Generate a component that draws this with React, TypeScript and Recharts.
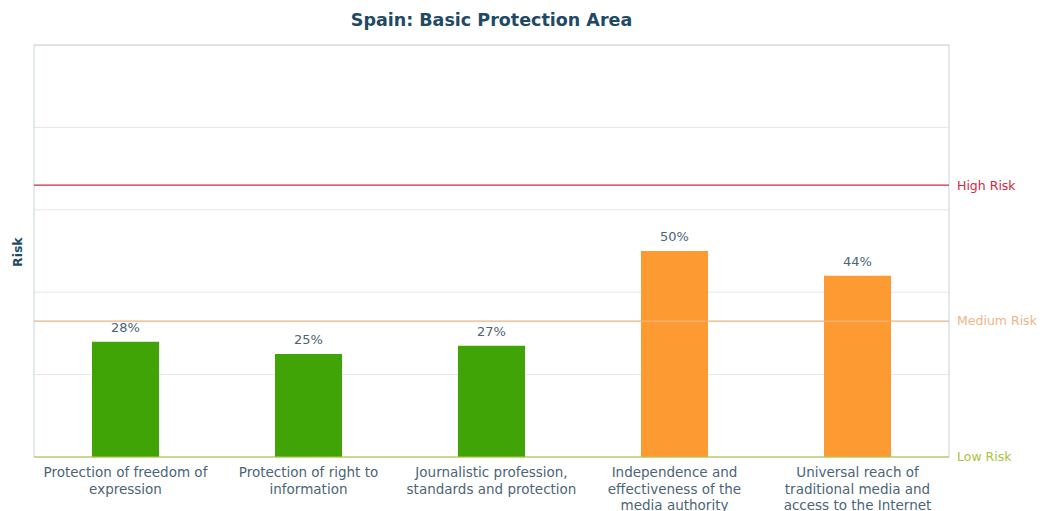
import React from "react";
import { BarChart, Bar, XAxis, YAxis, CartesianGrid, ReferenceLine, ReferenceArea, LabelList, Cell } from "recharts";

const categories = [
  "Protection of freedom of\nexpression",
  "Protection of right to\ninformation",
  "Journalistic profession,\nstandards and protection",
  "Independence and\neffectiveness of the\nmedia authority",
  "Universal reach of\ntraditional media and\naccess to the Internet",
];
const riskValues = [28, 25, 27, 50, 44];
const yTicks = [0, 20, 40, 60, 80, 100];
const riskLevels = [0, 33, 66];
const riskLabels = ["Low Risk", "Medium Risk", "High Risk"];

const data = categories.map((c, i) => ({ name: c, value: riskValues[i] }));

const FONT = "'DejaVu Sans', sans-serif";
const GREEN = "#40a306";
const ORANGE = "#fd9b32";
const levelColors = ["#a9c43a", "#f2b487", "#d4283e"];
const levelLineColors = ["#b5cc3a", "#efb27e", "#d4283e"];

const XTick = (props: any) => {
  const { x, y, payload } = props;
  const lines = String(payload.value).split("\n");
  return (
    <text x={x} y={y} textAnchor="middle" fontFamily={FONT} fontSize={13.5} fill="#4b6577">
      {lines.map((l, i) => (
        <tspan key={i} x={x} dy={i === 0 ? 12 : 16.5}>{l}</tspan>
      ))}
    </text>
  );
};

const EmptyTick = () => <g />;

export default function App() {
  return (
    <div style={{ position: "absolute", left: 0, top: 0, width: 1043, height: 511, background: "#fff" }}>
      <div style={{ position: "absolute", left: 0, top: 10, width: 983, textAlign: "center", fontFamily: FONT, fontWeight: "bold", fontSize: 17.5, color: "#1f4a66" }}>
        Spain: Basic Protection Area
      </div>
      <BarChart width={1043} height={511} data={data} margin={{ top: 45, right: 94, bottom: 0, left: 0 }} barCategoryGap={0}>
        <CartesianGrid vertical={false} stroke="#e6e6e6" />
        <XAxis dataKey="name" tick={<XTick />} tickLine={false} axisLine={false} height={54} interval={0} />
        <YAxis
          domain={[0, 100]}
          ticks={yTicks}
          width={34}
          tick={<EmptyTick />}
          tickLine={false}
          axisLine={false}
          interval={0}
          label={{ value: "Risk", angle: -90, position: "insideLeft", dx: 13, dy: 16, style: { fontFamily: FONT, fontWeight: "bold", fontSize: 12.5, fill: "#1f4a66" } }}
        />
        <ReferenceArea y1={0} y2={100} fill="none" stroke="#c8d3db" strokeWidth={1} />
        {riskLevels.map((lv, i) => (
          <ReferenceLine
            key={i}
            y={lv}
            stroke={levelLineColors[i]}
            strokeWidth={1.2}
            label={{ value: riskLabels[i], position: "right", offset: 8, style: { fontFamily: FONT, fontSize: 12.5, fill: levelColors[i] } }}
          />
        ))}
        <Bar dataKey="value" barSize={67} isAnimationActive={false}>
          {data.map((d, i) => (
            <Cell key={i} fill={d.value < riskLevels[1] ? GREEN : ORANGE} />
          ))}
          <LabelList dataKey="value" position="top" offset={10} formatter={(v: any) => `${v}%`} style={{ fontFamily: FONT, fontSize: 13, fill: "#4b6577" }} />
        </Bar>
      </BarChart>
    </div>
  );
}
